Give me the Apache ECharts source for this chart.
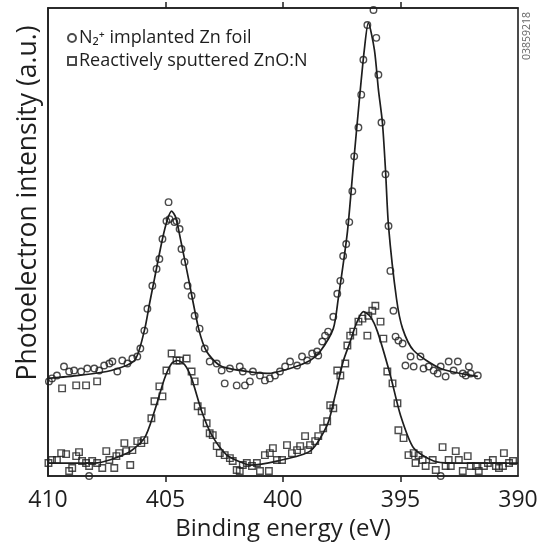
<!DOCTYPE html>
<html>
<head>
<meta charset="utf-8">
<script src="https://cdn.jsdelivr.net/npm/echarts@6/dist/echarts.min.js"></script>
<style>
html,body{margin:0;padding:0;background:#fff;}
#chart{width:541px;height:546px;}
</style>
</head>
<body>
<div id="chart"></div>
<script>
// Binding energy (eV) vs photoelectron intensity (arbitrary units)
var xTicks = [410, 405, 400, 395, 390];
var seriesNames = ['N\u2082\u207A implanted Zn foil', 'Reactively sputtered ZnO:N'];

var n2Points = [
[409.96,95],[409.83,98],[409.62,101],[409.32,110],[409.10,105],[408.89,106],[408.59,105],[408.33,108],[408.03,108],[407.82,106],
[407.61,111],[407.39,113],[407.26,115],[407.05,105],[406.84,116],[406.62,113],[406.41,118],[406.20,120],[406.07,128],[405.90,146],
[405.77,168],[405.56,191],[405.38,208],[405.26,218],[405.13,238],[404.96,256],[404.87,275],[404.83,258],[404.62,255],[404.53,256],
[404.40,248],[404.32,228],[404.19,215],[404.06,191],[403.89,181],[403.76,161],[403.55,148],[403.33,128],[403.12,115],[402.82,113],
[402.61,106],[402.48,93],[402.26,108],[401.97,91],[401.84,110],[401.71,105],[401.62,91],[401.41,95],[401.28,105],[400.98,101],
[400.77,96],[400.56,98],[400.34,101],[400.13,105],[399.91,110],[399.70,115],[399.40,111],[399.19,120],[398.97,116],[398.76,123],
[398.55,125],[398.50,121],[398.33,135],[398.21,141],[398.08,145],[397.86,160],[397.69,183],[397.56,196],[397.44,221],[397.31,233],
[397.18,255],[397.05,286],[396.97,321],[396.79,350],[396.67,383],[396.58,418],[396.41,453],[396.15,468],[396.03,440],[395.94,403],
[395.81,355],[395.64,303],[395.51,251],[395.43,206],[395.30,166],[395.21,140],[395.09,136],[394.91,133],[394.79,111],[394.57,120],
[394.44,110],[394.15,120],[394.02,108],[393.80,110],[393.59,106],[393.42,103],[393.29,110],[393.08,100],[392.95,115],[392.74,106],
[392.56,115],[392.35,103],[392.22,101],[392.09,110],[392.01,103],[391.71,101],[408.25,0],[393.29,0]
];

var znoPoints = [
[409.98,13],[409.83,16],[409.62,16],[409.44,23],[409.23,22],[409.10,5],[408.97,8],[408.80,20],[408.68,24],[408.55,15],
[408.38,13],[408.25,10],[408.12,15],[407.91,13],[407.69,8],[407.52,25],[407.39,16],[407.18,8],[407.09,20],[406.97,23],
[406.75,33],[406.67,25],[406.50,11],[406.41,26],[406.20,35],[406.03,33],[405.90,36],[405.60,58],[405.47,75],[405.26,90],
[405.13,80],[404.96,106],[404.74,123],[404.53,116],[404.40,116],[404.10,118],[403.89,105],[403.76,95],[403.63,70],[403.46,65],
[403.25,53],[403.12,43],[402.99,41],[402.82,30],[402.69,23],[402.48,21],[402.26,18],[402.14,15],[401.97,6],[401.84,5],
[401.71,11],[401.54,13],[401.32,10],[401.11,13],[400.98,5],[400.77,21],[400.60,5],[400.56,23],[400.43,28],[400.26,16],
[400.04,16],[399.83,31],[399.62,23],[399.40,26],[399.27,30],[399.06,40],[398.93,26],[398.85,31],[398.63,35],[398.50,40],
[398.29,48],[398.12,55],[397.99,71],[397.86,68],[397.69,106],[397.56,101],[397.35,113],[397.26,131],[397.14,141],[397.01,145],
[396.79,155],[396.62,158],[396.41,141],[396.37,161],[396.20,166],[396.07,171],[395.85,155],[395.73,138],[395.56,105],[395.34,93],
[395.13,73],[395.09,46],[394.87,38],[394.66,21],[394.44,23],[394.36,13],[394.23,21],[394.06,16],[393.93,10],[393.63,16],
[393.50,6],[393.21,29],[393.08,10],[392.95,16],[392.86,10],[392.65,25],[392.52,16],[392.35,5],[392.14,20],[392.01,10],
[391.79,10],[391.67,5],[391.45,10],[391.28,13],[391.07,16],[390.94,10],[390.81,8],[390.64,10],[390.60,23],[390.38,13],
[390.21,15],[409.40,88],[408.80,91],[408.38,91],[407.91,95]
];

var n2Fit = [
[410.00,98],[408.68,101],[407.31,106],[406.32,116],[405.90,146],[405.68,173],[405.47,198],[405.13,238],[404.91,258],[404.74,266],
[404.57,260],[404.32,233],[404.02,198],[403.59,148],[403.25,125],[402.69,111],[401.84,106],[400.68,103],[399.70,108],[398.85,116],
[398.42,125],[397.86,148],[397.65,178],[397.26,245],[397.01,311],[396.75,378],[396.54,428],[396.37,455],[396.11,428],[395.94,388],
[395.77,355],[395.64,308],[395.51,251],[395.17,178],[394.91,148],[394.44,126],[393.29,108],[391.71,100]
];

var znoFit = [
[410.00,13],[408.03,13],[406.62,23],[405.90,38],[405.47,65],[405.04,98],[404.74,113],[404.49,116],[404.19,112],[403.89,98],
[403.46,65],[403.03,41],[402.39,21],[401.71,13],[401.41,11],[400.26,15],[398.85,25],[398.12,51],[397.78,81],[397.44,115],
[397.14,135],[396.88,153],[396.58,165],[396.28,160],[395.98,145],[395.43,101],[395.00,61],[394.44,28],[393.59,15],[392.86,13],
[390.00,13]
];

var ink = '#1e1e1e';
var chart = echarts.init(document.getElementById('chart'), null, {renderer: 'canvas'});
var FONT = 'Open Sans';

chart.setOption({
  backgroundColor: '#fff',
  animation: false,
  grid: {left: 48, right: 23, top: 8, bottom: 68, show: true, borderColor: ink, borderWidth: 1.6, backgroundColor: 'transparent'},
  legend: {
    data: seriesNames,
    orient: 'vertical',
    left: 62,
    top: 24,
    itemGap: 5,
    itemWidth: 8,
    itemHeight: 8,
    itemStyle: {borderWidth: 2},
    textStyle: {fontFamily: FONT, fontSize: 18, color: ink, padding: [0, 0, 0, -2]},
    selectedMode: false
  },
  xAxis: [{
    type: 'value', min: 390, max: 410, interval: 5, inverse: true, position: 'bottom',
    axisLine: {show: true, lineStyle: {color: ink, width: 1.6}},
    axisTick: {show: true, inside: false, length: 6, lineStyle: {color: ink, width: 1.5}, customValues: [405, 400, 395]},
    axisLabel: {show: true, fontFamily: FONT, fontSize: 23, color: ink, margin: 13, customValues: xTicks},
    splitLine: {show: false},
    name: 'Binding energy (eV)', nameLocation: 'middle', nameGap: 41,
    nameTextStyle: {fontFamily: FONT, fontSize: 24, color: ink}
  }, {
    type: 'value', min: 390, max: 410, interval: 5, inverse: true, position: 'top',
    axisLine: {show: true, lineStyle: {color: ink, width: 1.6}},
    axisTick: {show: true, inside: false, length: 6, lineStyle: {color: ink, width: 1.5}, customValues: [405, 400, 395]},
    axisLabel: {show: false},
    splitLine: {show: false}
  }],
  yAxis: {
    type: 'value', min: 0, max: 470,
    axisLine: {show: true, lineStyle: {color: ink, width: 1.6}},
    axisTick: {show: false}, axisLabel: {show: false}, splitLine: {show: false}
  },
  series: [{
    name: 'fit1', type: 'line', data: n2Fit, smooth: 0.25, symbol: 'none',
    lineStyle: {color: ink, width: 1.7}, z: 2
  }, {
    name: 'fit2', type: 'line', data: znoFit, smooth: 0.25, symbol: 'none',
    lineStyle: {color: ink, width: 1.7}, z: 2
  }, {
    name: seriesNames[0], type: 'scatter', data: n2Points, symbol: 'circle', symbolSize: 6.5,
    itemStyle: {color: 'rgba(255,255,255,0)', borderColor: ink, borderWidth: 1.4}, z: 3
  }, {
    name: seriesNames[1], type: 'scatter', data: znoPoints, symbol: 'rect', symbolSize: 6.5,
    itemStyle: {color: 'rgba(255,255,255,0)', borderColor: ink, borderWidth: 1.4}, z: 3
  }],
  graphic: [{
    type: 'text', x: 28, y: 203, rotation: Math.PI / 2,
    style: {text: 'Photoelectron intensity (a.u.)', fontFamily: FONT, fontSize: 26.5, fill: ink, align: 'center', verticalAlign: 'middle'}
  }, {
    type: 'text', x: 527, y: 36, rotation: Math.PI / 2,
    style: {text: '03859218', fontFamily: FONT, fontSize: 10.5, fill: '#666', align: 'center', verticalAlign: 'middle'}
  }]
});
</script>
</body>
</html>
